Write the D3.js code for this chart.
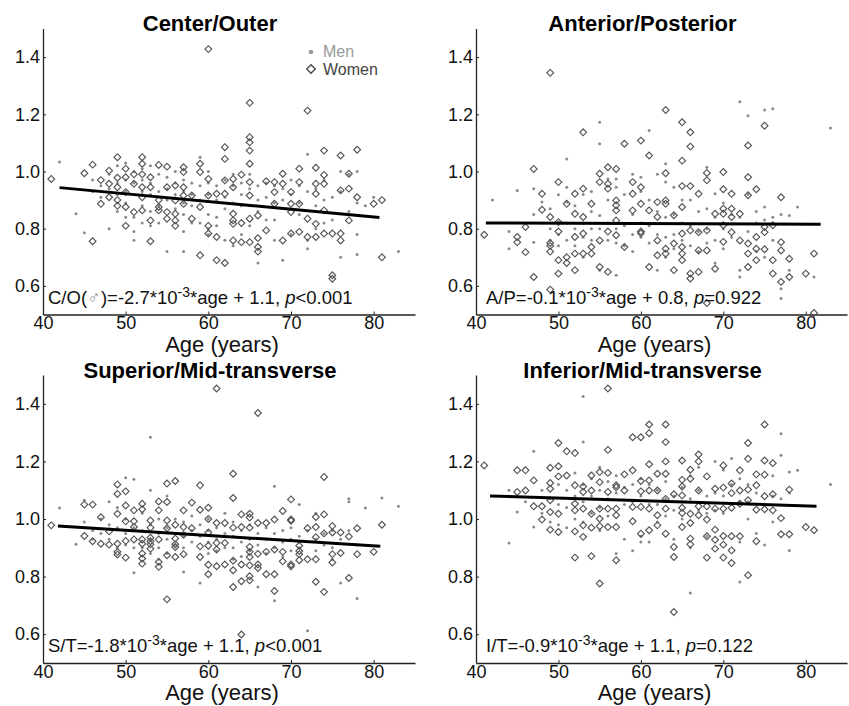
<!DOCTYPE html>
<html>
<head>
<meta charset="utf-8">
<script src="https://cdn.jsdelivr.net/npm/d3@7"></script>
<style>
  body { margin: 0; background: #fff; }
  text { font-family: "Liberation Sans", Arial, sans-serif; }
</style>
</head>
<body>
<div id="chart"></div>
<script>
// values, grouped by age: [age, [ratios...]]
const coWomen = [[41,[.974]],[45,[.994]],[46,[1.024,.756]],[47,[.97,.887]],[48,[1.003,.957,.91]],[49,[1.05,.978,.945,.90,.88]],[50,[1.01,.98,.928,.876,.81]],[51,[.99,.957,.858]],[52,[1.05,1.027,.99,.945,.91,.864]],[53,[.98,.945,.829,.756]],[54,[1.023,.90,.876,.864]],[55,[1.017,.945,.858,.835]],[56,[.951,.899,.852,.829,.81]],[57,[1.015,.998,.945,.916,.887]],[58,[.916,.835]],[59,[1.027,.998,.876,.707]],[60,[1.428,.974,.916,.81,.783]],[61,[.922,.771,.69]],[62,[1.085,1.044,.969,.922,.68]],[63,[.974,.945,.852,.829,.817,.759]],[64,[.989,.82,.753]],[65,[1.24,1.12,1.102,1.073,1.027,.963,.916,.835,.753]],[66,[.846,.767,.736,.72]],[67,[.966,.794]],[68,[.963,.928,.887]],[69,[.992,.957,.759]],[70,[.928,.887,.858,.783]],[71,[1.01,.963,.887,.789]],[72,[1.213,.835,.771]],[73,[1.013,.957,.922,.817,.771]],[74,[1.073,.988,.957,.864,.783]],[75,[.783,.637,.625]],[76,[1.056,.934,.783,.759]],[77,[.992,.94,.829]],[78,[1.076,.91]],[80,[.887]],[81,[.90,.70]]];
const coMen = [[42,[1.033]],[44,[.852]],[45,[.786]],[46,[.97,.93]],[47,[.95,.91]],[48,[.99,.94,.80]],[49,[1.02,.96,.92,.86]],[50,[1.03,.97,.93,.89,.84]],[51,[1.0,.96,.84,.79,.76]],[52,[1.01,.97,.93,.88,.82]],[53,[1.02,.96,.92,.86,.81]],[54,[.99,.93,.88,.82]],[55,[.98,.94,.90,.72]],[56,[1.0,.96,.92,.87]],[57,[.97,.93,.89,.85,.79,.72]],[58,[.96,.92,.88,.82]],[59,[1.05,.95,.90,.82]],[60,[1.0,.96,.92,.85,.80,.78]],[61,[.95,.90,.84,.81]],[62,[.97,.91,.87,.76]],[63,[.99,.95,.89,.74]],[64,[.96,.92,.88,.78]],[65,[.99,.94,.88,.81]],[66,[.95,.90,.86,.68]],[67,[.96,.91,.83]],[68,[.95,.89,.83,.76]],[69,[.94,.90,.69]],[70,[.97,.92,.87,.78]],[71,[.95,.89,.85]],[72,[1.06,.93,.76,.73]],[73,[.94,.88,.80]],[74,[.97,.90,.82]],[75,[.91,.83]],[76,[1.0,.93,.70]],[77,[.99,.86]],[78,[1.0,.89,.78,.71]],[79,[.88]],[80,[.91]],[83,[.72]]];

const apWomen = [[41,[.779]],[45,[.771,.753]],[46,[.806,.718]],[47,[1.009,.631]],[48,[.922,.866]],[49,[1.345,.841,.75,.74,.72,.587]],[50,[.963,.823,.79,.69,.643]],[51,[.887,.70,.68]],[52,[.922,.852,.771,.713,.655]],[53,[1.137,.94,.841,.783,.713]],[54,[.887,.736,.713]],[55,[.992,.963,.759,.666]],[56,[1.015,.957,.94,.79,.649]],[57,[1.009,.899,.882,.864,.829,.777]],[58,[1.097,.736]],[59,[.963,.922,.864]],[60,[1.108,.945,.887,.79,.784]],[61,[1.056,.864,.666]],[62,[.893,.841,.759,.707]],[63,[1.215,.994,.899,.887,.73,.713]],[64,[.847,.748,.655]],[65,[1.172,1.038,.949,.876,.783,.736,.713,.69]],[66,[1.137,1.087,.949,.794,.643,.626]],[67,[.922,.788,.724,.649]],[68,[.995,.969,.794,.724,.54]],[69,[.852,.66]],[70,[.998,.938,.87,.852,.812,.754]],[71,[.922,.87,.841,.788]],[72,[.852,.759]],[73,[1.091,.98,.917,.748,.713,.666]],[74,[.938,.771,.73,.69]],[75,[1.16,.806,.788,.728]],[76,[.812,.69,.643]],[77,[.91,.753,.724,.614]],[78,[.695,.631]],[80,[.643]],[81,[.713,.505]]];
const apMen = [[42,[.90]],[44,[.79,.73]],[45,[.934]],[47,[.94,.85,.753]],[48,[.893,.82]],[49,[.87,.80,.76]],[50,[.919,.823,.78,.74]],[51,[1.044,.945,.893,.82,.76]],[52,[.88,.80,.74]],[53,[.92,.82,.77,.70]],[54,[.93,.86,.80,.76]],[55,[1.172,1.097,.846,.80,.655]],[56,[.974,.90,.82,.76]],[57,[.974,.945,.80,.75,.637]],[58,[.92,.81,.74]],[59,[.99,.85,.78,.72]],[60,[.98,.93,.82,.77]],[61,[1.143,.90,.81,.75]],[62,[.99,.86,.78,.655]],[63,[1.027,.963,.84,.77,.70]],[64,[.945,.85,.78,.73]],[65,[.90,.82,.76]],[66,[.90,.81,.74]],[67,[.86,.79,.72]],[68,[1.015,.87,.80,.75]],[69,[.922,.84,.76,.68]],[70,[.89,.80,.73]],[71,[.85,.77]],[72,[1.244,.84,.655,.631]],[73,[1.195,.92,.79]],[74,[.86,.82,.72]],[75,[1.215,.876,.83,.70]],[76,[1.219,.84,.76]],[77,[.85,.59,.556]],[78,[.846,.655]],[79,[.876]],[81,[.631]],[83,[1.152]]];

const stWomen = [[41,[.978]],[45,[1.05,.941]],[46,[1.05,.923]],[47,[1.006,.914]],[48,[.957,.911]],[49,[1.12,1.087,1.018,.914,.886,.877]],[50,[1.096,1.047,.992,.924,.866]],[51,[1.03,.992,.972,.929]],[52,[1.053,1.034,.929,.914,.88,.863,.845]],[53,[.995,.97,.935,.923,.912,.897]],[54,[1.061,1.03,.929,.851,.834]],[55,[1.123,1.059,.995,.968,.874,.721]],[56,[1.132,.98,.932,.912,.903,.868]],[57,[1.03,.972,.945,.878]],[58,[1.057,.968]],[59,[1.117,1.032,.905,.868]],[60,[1.039,1.0,.953,.907,.841,.808]],[61,[1.453,.986,.917,.894,.836]],[62,[.986,.917,.842]],[63,[1.157,1.073,.97,.855,.822,.764]],[64,[1.016,.972,.842,.784,.599]],[65,[1.018,1.005,.97,.903,.886,.868,.839,.801,.787]],[66,[1.368,.986,.879,.842,.83]],[67,[.986,.886,.808]],[68,[.998,.894,.808,.75]],[69,[1.028,.886,.853]],[70,[1.068,.998,.994,.842,.836]],[71,[.907,.889,.878,.857]],[72,[.968,.86]],[73,[1.007,.972,.937,.86,.782]],[74,[1.146,1.016,.95,.747]],[75,[.976,.953,.878,.849]],[76,[.953,.882]],[77,[.939,.795]],[78,[.968,.878]],[80,[.886]],[81,[.98]]];
const stMen = [[42,[1.038]],[44,[.912]],[45,[1.065,.99]],[46,[.96,.93]],[47,[1.0,.95]],[48,[1.06,.98,.93]],[49,[1.04,.97,.90]],[50,[1.143,1.0,.95,.91]],[51,[1.138,.97,.90,.813]],[52,[1.02,.96,.90]],[53,[1.284,1.10,.98,.93,.88]],[54,[1.0,.95,.90,.86]],[55,[1.08,.97,.93,.88]],[56,[1.0,.95,.91]],[57,[.99,.94,.90,.816]],[58,[1.01,.96,.92]],[59,[.98,.94,.778]],[60,[1.0,.96,.92,.88]],[61,[.97,.93,.89]],[62,[1.02,.95,.90]],[63,[.99,.94,.90,.86]],[64,[.96,.92,.87]],[65,[.98,.93,.89]],[66,[.95,.91,.764]],[67,[.97,.93,.88]],[68,[1.114,.95,.90,.716]],[69,[.96,.92,.87]],[70,[.97,.93,.89]],[71,[1.05,.94,.90]],[72,[.96,.612]],[73,[1.02,.93,.89]],[74,[.95,.91]],[75,[.96,.90,.86]],[76,[.93,.778]],[77,[1.07,1.06,.96]],[78,[.91,.724]],[79,[1.038]],[81,[1.073]],[83,[1.044]]];

const itWomen = [[41,[1.186]],[45,[1.169,1.094]],[46,[1.169,1.099]],[47,[1.134,1.044]],[48,[1.044,.998]],[49,[1.178,1.125,1.105,1.065,1.024,.963]],[50,[1.264,1.183,1.148,1.018,.955]],[51,[1.235,1.151]],[52,[1.229,1.117,1.053,1.03,.957,.866]],[53,[1.113,1.094,1.036,.978,.938]],[54,[1.151,1.099,1.018,.97,.871]],[55,[1.163,1.128,1.036,1.001,.975,.776]],[56,[1.453,1.24,1.16,1.094,1.036,.972]],[57,[1.117,1.11,1.036,1.013,.972,.857]],[58,[1.155,1.099]],[59,[1.284,1.169,1.042,.992]],[60,[1.284,1.132,1.096,1.042,.949]],[61,[1.328,1.298,1.19,1.134,1.099,1.036,.961]],[62,[1.157,1.099,1.013,.978]],[63,[1.328,1.267,1.2,1.157,1.07,1.036,.949]],[64,[1.086,.903,.868,.677]],[65,[1.203,1.136,1.113,1.082,1.039,1.021,.972]],[66,[1.171,1.14,1.018,.986,.932,.912]],[67,[1.224,1.2,1.099,1.044,1.013]],[68,[1.148,1.044,.998,.94,.866]],[69,[1.105,1.036,.963,.928,.897]],[70,[1.186,1.109,1.036,.941,.911,.866]],[71,[1.123,1.09,1.039,.94,.891,.847]],[72,[1.169,1.099,1.053,.94]],[73,[1.264,1.209,1.102,1.065,.805]],[74,[1.155,1.117,1.032,.923]],[75,[1.328,1.203,1.154,1.079,1.034]],[76,[1.194,1.086,1.03]],[77,[1.003,.947]],[78,[1.102,.947]],[80,[.972]],[81,[.961]]];
const itMen = [[44,[1.10,.917]],[45,[1.024]],[46,[1.06]],[47,[1.235,.972]],[48,[1.10,1.02]],[49,[1.07,.99]],[50,[1.12,1.05,.98]],[51,[1.10,1.04,.97]],[52,[1.16,1.08,1.0]],[53,[1.425,1.267,1.12,1.06,.99]],[54,[1.14,1.08,1.02]],[55,[1.18,1.10,1.04,.96]],[56,[1.13,1.07,1.01]],[57,[1.15,1.09,.88]],[58,[1.11,1.05,.93]],[59,[1.12,1.06,.89]],[60,[1.14,1.08,.94,.92]],[61,[1.12,1.05,.92]],[62,[1.10,1.05,.99]],[63,[1.13,1.07,1.01]],[64,[1.08,1.03,.93]],[65,[1.11,1.06,1.0]],[66,[1.15,1.07,.90,.743]],[67,[1.18,1.10,1.03]],[68,[1.08,1.02,.94]],[69,[1.20,1.09,1.03]],[70,[1.17,1.08,1.02]],[71,[1.21,1.12,1.05]],[72,[1.14,1.06,.92,.781]],[73,[1.12,1.06,1.0]],[74,[1.09,.95]],[75,[1.05,.91]],[76,[1.15,1.08,.99]],[77,[1.296,1.221,1.07]],[78,[1.163,1.09,.891]],[79,[1.169]],[83,[1.12]]];

// fitted lines: [slope, intercept, first age, last age]
const coFit = [-0.0027, 1.057, 42, 80.7];
const apFit = [-0.0001, 0.824, 41.2, 81.8];
const stFit = [-0.0018, 1.051, 41.8, 80.8];
const itFit = [-0.0009, 1.1175, 41.7, 81.3];

// equation text: [label, slope, intercept, p operator, p]
const coEq = ["C/O", "-2.7", "1.1", "<", "0.001"];
const apEq = ["A/P", "-0.1", "0.8", "=", "0.922"];
const stEq = ["S/T", "-1.8", "1.1", "<", "0.001"];
const itEq = ["I/T", "-0.9", "1.1", "=", "0.122"];

const xTicks = [40, 50, 60, 70, 80];
const yTicks = [0.6, 0.8, 1.0, 1.2, 1.4];

const width = 849, height = 706;

const svg = d3.select("#chart")
    .append("svg")
    .attr("width", width)
    .attr("height", height);

const flat = rows => rows.flatMap(([age, vals]) => vals.map(v => ({ age, v })));
const diamond = d3.symbol(d3.symbolSquare, 23)();

const panels = [
    { title: "Center/Outer", women: coWomen, men: coMen, fit: coFit, eq: coEq, male: true, left: 43, right: 415, top: 28.5, bottom: 314.5, eqX: 48, legend: true },
    { title: "Anterior/Posterior", women: apWomen, men: apMen, fit: apFit, eq: apEq, left: 476, right: 847, top: 28.5, bottom: 314.5, eqX: 486 },
    { title: "Superior/Mid-transverse", women: stWomen, men: stMen, fit: stFit, eq: stEq, left: 43, right: 415, top: 375, bottom: 663, eqX: 48 },
    { title: "Inferior/Mid-transverse", women: itWomen, men: itMen, fit: itFit, eq: itEq, left: 476, right: 847, top: 375, bottom: 663, eqX: 486 }
];

panels.forEach(p => {
    const g = svg.append("g");

    //scales
    const x = d3.scaleLinear().domain([40, 85]).range([p.left, p.right]);
    const y = d3.scaleLinear().domain([0.5, 1.5]).range([p.bottom, p.top]);

    //axes
    const xAxis = g.append("g")
        .attr("transform", `translate(0,${p.bottom})`)
        .call(d3.axisBottom(x).tickValues(xTicks).tickFormat(d3.format("d")).tickSizeInner(-3).tickSizeOuter(0).tickPadding(2));
    const yAxis = g.append("g")
        .attr("transform", `translate(${p.left},0)`)
        .call(d3.axisLeft(y).tickValues(yTicks).tickFormat(d3.format(".1f")).tickSizeInner(-3).tickSizeOuter(0).tickPadding(3));
    [xAxis, yAxis].forEach(a => {
        a.select(".domain").attr("stroke", "#222").attr("stroke-width", 1.3);
        a.selectAll(".tick line").attr("stroke", "#222");
        a.selectAll(".tick text").attr("fill", "#111").attr("font-size", 18).attr("font-family", "Liberation Sans, Arial, sans-serif");
    });

    //men dots
    g.append("g").selectAll("circle")
        .data(flat(p.men))
        .enter()
        .append("circle")
        .attr("cx", d => x(d.age))
        .attr("cy", d => y(d.v))
        .attr("r", 1.5)
        .attr("fill", "#8a8a8a");

    //women diamonds
    g.append("g").selectAll("path")
        .data(flat(p.women))
        .enter()
        .append("path")
        .attr("d", diamond)
        .attr("transform", d => `translate(${x(d.age)},${y(d.v)}) rotate(45)`)
        .attr("fill", "none")
        .attr("stroke", "#555")
        .attr("stroke-width", 1.15);

    //fitted line
    const [slope, icpt, a0, a1] = p.fit;
    g.append("line")
        .attr("x1", x(a0)).attr("y1", y(slope * a0 + icpt))
        .attr("x2", x(a1)).attr("y2", y(slope * a1 + icpt))
        .attr("stroke", "#000")
        .attr("stroke-width", 3);

    //title
    g.append("text")
        .attr("x", (p.left + p.right) / 2 - 19)
        .attr("y", p.top + 2.5)
        .attr("text-anchor", "middle")
        .attr("font-size", 22)
        .attr("font-weight", "bold")
        .text(p.title);

    //x label
    g.append("text")
        .attr("x", (p.left + p.right) / 2 - 7)
        .attr("y", p.bottom + 37)
        .attr("text-anchor", "middle")
        .attr("font-size", 22)
        .attr("fill", "#111")
        .text("Age (years)");

    //equation
    const [lab, b, c, op, pv] = p.eq;
    const t = g.append("text")
        .attr("x", p.eqX)
        .attr("y", p.bottom - 11)
        .attr("font-size", 18.5)
        .attr("fill", "#111");
    t.append("tspan").text(lab);
    if (p.male) {
        t.append("tspan").text("(");
        t.append("tspan").attr("fill", "#999").text("\u2642");
        t.append("tspan").text(")");
    }
    t.append("tspan").text(`=${b}*10`);
    t.append("tspan").attr("dy", -7).attr("font-size", 14).text("-3");
    t.append("tspan").attr("dy", 7).text(`*age + ${c}, `);
    t.append("tspan").attr("font-style", "italic").text("p");
    t.append("tspan").text(`${op}${pv}`);

    //legend
    if (p.legend) {
        const lg = g.append("g").attr("font-size", 16);
        lg.append("circle").attr("cx", 311).attr("cy", 52).attr("r", 2.3).attr("fill", "#999");
        lg.append("text").attr("x", 323).attr("y", 56.5).attr("fill", "#999").text("Men");
        lg.append("path").attr("d", d3.symbol(d3.symbolSquare, 36)())
            .attr("transform", "translate(311,69) rotate(45)")
            .attr("fill", "none").attr("stroke", "#444").attr("stroke-width", 1.3);
        lg.append("text").attr("x", 323).attr("y", 74.5).attr("fill", "#444").text("Women");
    }
});
</script>
</body>
</html>
